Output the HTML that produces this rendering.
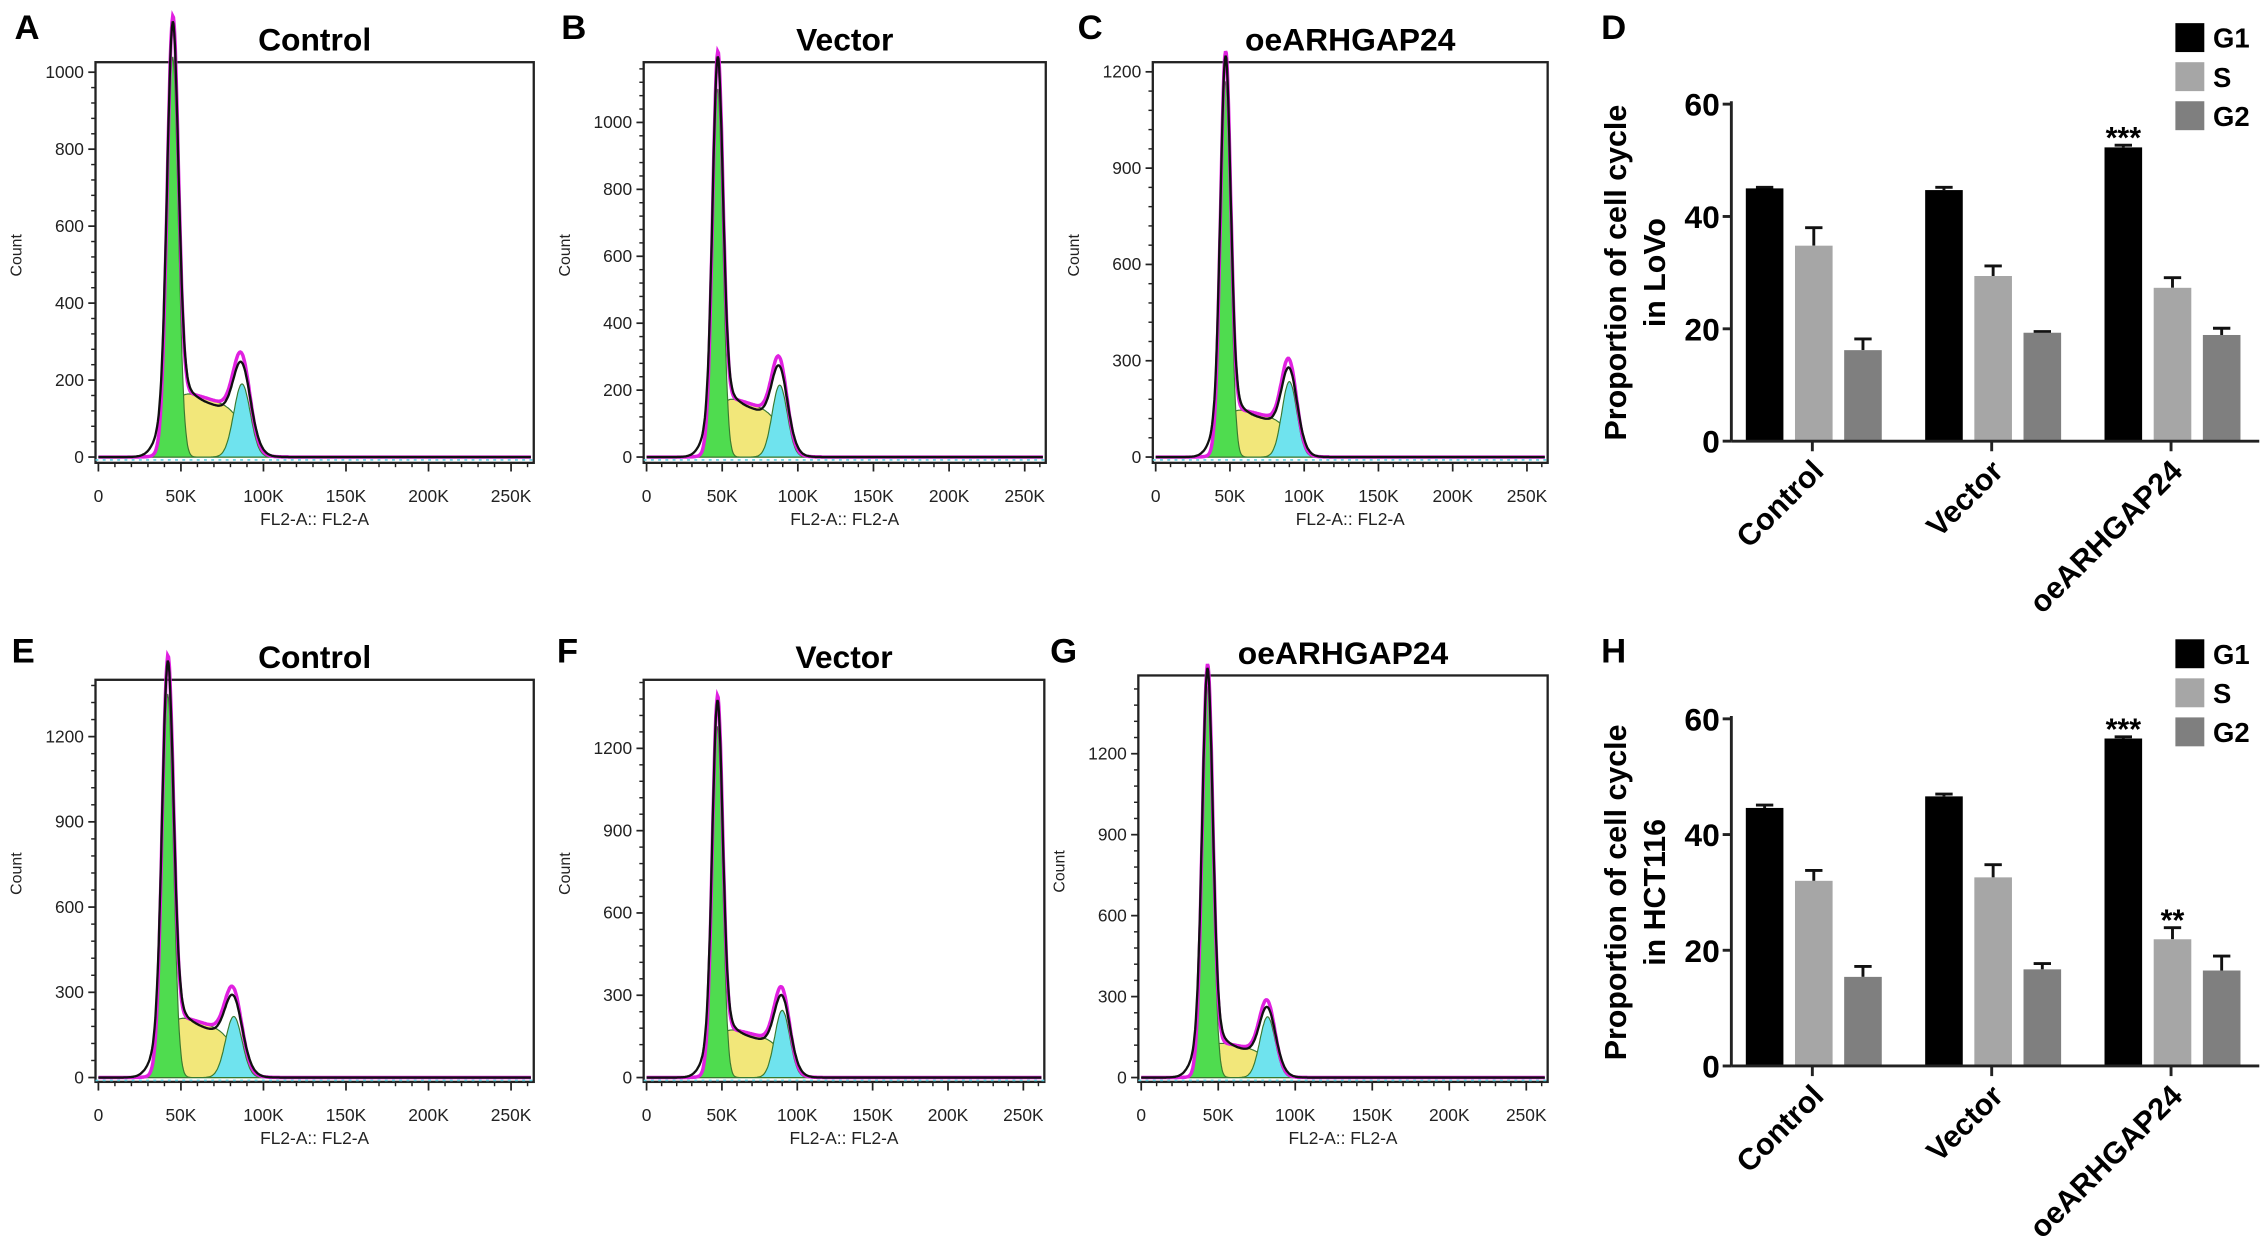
<!DOCTYPE html>
<html><head><meta charset="utf-8"><style>
html,body{margin:0;padding:0;background:#fff;}
svg{display:block;font-family:"Liberation Sans",Arial,sans-serif;}
</style></head><body>
<svg id="fig" width="2268" height="1254" viewBox="0 0 1568 867" xmlns="http://www.w3.org/2000/svg"></svg>
<script>
// ---- Flow cytometry histogram data (peak parameters) ----
const histPanels = ["A","B","C","E","F","G"];
const histTitles = ["Control","Vector","oeARHGAP24","Control","Vector","oeARHGAP24"];
const histG1Height = [1040, 1100, 1170, 1350, 1280, 1450];
const histG1Pos = [45, 47, 47, 42, 47, 43];
const histSLevel = [180, 190, 160, 230, 190, 140];
const histG2Height = [190, 215, 235, 215, 245, 225];
const histG2Pos = [87, 88, 90, 82, 90, 82];
const histYTickStep = [200, 200, 300, 300, 300, 300];
const histYTickMax = [1000, 1000, 1200, 1200, 1200, 1200];
const xTickValues = [0, 50, 100, 150, 200, 250];
const xTickLabels = ["0","50K","100K","150K","200K","250K"];

// ---- Bar chart data ----
const barCategories = ["Control","Vector","oeARHGAP24"];
const barSeries = ["G1","S","G2"];
const lovoG1 = [45.0, 44.7, 52.3];
const lovoS = [34.8, 29.4, 27.3];
const lovoG2 = [16.2, 19.3, 18.9];
const lovoG1Err = [0.2, 0.5, 0.4];
const lovoSErr = [3.2, 1.8, 1.8];
const lovoG2Err = [2.0, 0.2, 1.2];
const hctG1 = [44.6, 46.6, 56.6];
const hctS = [32.0, 32.6, 21.9];
const hctG2 = [15.4, 16.7, 16.5];
const hctG1Err = [0.5, 0.4, 0.3];
const hctSErr = [1.8, 2.2, 2.0];
const hctG2Err = [1.8, 1.0, 2.5];
const barYTicks = [0, 20, 40, 60];

const NS = "http://www.w3.org/2000/svg";
const svg = document.getElementById("fig");
function el(tag, attrs, parent, text){
  const e = document.createElementNS(NS, tag);
  for (const k in attrs) e.setAttribute(k, attrs[k]);
  if (text !== undefined) e.textContent = text;
  (parent || svg).appendChild(e);
  return e;
}

const histFrames = [
  {x:66,y:43,w:303,h:277,lx:10,ly:27,zero:316},
  {x:445,y:43,w:278,h:277,lx:388,ly:27,zero:316},
  {x:797,y:43,w:273,h:277,lx:745,ly:27,zero:316},
  {x:66,y:470,w:303,h:278,lx:8,ly:458,zero:745},
  {x:445,y:470,w:277,h:278,lx:385,ly:458,zero:745},
  {x:787,y:467,w:283,h:281,lx:726,ly:458,zero:745}
];
const histTopVal = [1026, 1180, 1230, 1400, 1450, 1490];

function gauss(v,c,s){return Math.exp(-0.5*((v-c)/s)*((v-c)/s));}
function sig(t){return 1/(1+Math.exp(-t));}

histPanels.forEach((p,i)=>{
  const f = histFrames[i];
  const g = el("g",{},svg);
  
  
  const xs = v => f.x + 2 + v/262*(f.w-4);
  const ys = c => f.zero - c/histTopVal[i]*(f.zero - f.y);
  const lt = el("text",{x:f.lx,y:f.ly,"font-size":24,"font-weight":"bold"},g,p);
  
  
  const tt = el("text",{x:f.x+f.w/2,y:f.y-8,"font-size":22,"font-weight":"bold","text-anchor":"middle"},g,histTitles[i]);
  
  
  const fr = el("rect",{x:f.x,y:f.y,width:f.w,height:f.h,fill:"none",stroke:"#222","stroke-width":1.6},g);
  
  
  const c1=histG1Pos[i], c2=histG2Pos[i], H1=histG1Height[i], S=histSLevel[i], H2=histG2Height[i];
  const s1=3.4, s2=5;
  const g1f=v=>H1*gauss(v,c1,s1);
  const sf=v=>S*sig((v-c1+1)/2.8)*sig((c2+2-v)/4)*(1-0.3*Math.max(0,Math.min(1,(v-c1)/(c2-c1))));
  const g2f=v=>H2*gauss(v,c2,s2);
  function area(fn,fill,name){
    let d="M"+xs(0)+","+ys(0);
    for(let v=0;v<=262;v+=0.5){d+=" L"+xs(v).toFixed(1)+","+ys(fn(v)).toFixed(1);}
    d+=" L"+xs(262)+","+ys(0)+" Z";
    const a=el("path",{d:d,fill:fill,stroke:"#3a7a30","stroke-width":0.8},g);
    
    
  }
  area(sf,"#f2e77a","s-phase-fill");
  area(g2f,"#6fe3ee","g2-phase-fill");
  area(g1f,"#4fdc4f","g1-phase-fill");
  function line(fn,stroke,w,name){
    let d="";
    for(let v=0;v<=262;v+=0.5){d+=(v===0?"M":" L")+xs(v).toFixed(1)+","+ys(fn(v)).toFixed(1);}
    const l=el("path",{d:d,fill:"none",stroke:stroke,"stroke-width":w},g);
    
    
  }
  line(v=>g1f(v)+sf(v)+g2f(v),"#e020e0",2.4,"model-fit-line");
  line(v=>0.93*g1f(v)+sf(v)*0.92+0.88*g2f(v)+0.03*H1*gauss(v,c1-6,5)+0.05*H1*gauss(v,c1,8)+0.08*H2*gauss(v,c2+7,5),"#111",1.6,"data-line");
  el("line",{x1:f.x,y1:f.zero+2,x2:f.x+f.w,y2:f.zero+2,stroke:"#5fd0e0","stroke-width":1.2,"stroke-dasharray":"2 3"},g);
  for(let t=0;t<=histYTickMax[i];t+=histYTickStep[i]){
    const y=ys(t);
    el("line",{x1:f.x-5,y1:y,x2:f.x,y2:y,stroke:"#222","stroke-width":1.2},g);
    const tl=el("text",{x:f.x-8,y:y+4,"font-size":12,"text-anchor":"end",fill:"#222"},g,String(t));
    
    
    for(let k=1;k<5;k++){const ym=ys(t+k*histYTickStep[i]/5); if(ym>f.y) el("line",{x1:f.x-3,y1:ym,x2:f.x,y2:ym,stroke:"#222","stroke-width":1},g);}
  }
  const ct=el("text",{x:0,y:0,"font-size":11,"text-anchor":"middle",transform:"translate("+(f.x-51)+","+(f.y+f.h/2-5)+") rotate(-90)",fill:"#222"},g,"Count");
  
  
  xTickValues.forEach((v,k)=>{
    const x=xs(v);
    el("line",{x1:x,y1:f.y+f.h,x2:x,y2:f.y+f.h+6,stroke:"#222","stroke-width":1.2},g);
    const xl=el("text",{x:x,y:f.y+f.h+27,"font-size":12,"text-anchor":"middle",fill:"#222"},g,xTickLabels[k]);
    
    
  });
  for(let v=10;v<262;v+=10){ if(v%50) el("line",{x1:xs(v),y1:f.y+f.h,x2:xs(v),y2:f.y+f.h+3,stroke:"#222","stroke-width":1},g);}
  const xt=el("text",{x:f.x+f.w/2,y:f.y+f.h+43,"font-size":12,"text-anchor":"middle",fill:"#222"},g,"FL2-A:: FL2-A");
  
  
});

const barColors = ["#000000","#a6a6a6","#7f7f7f"];
function barChart(cfg){
  const g=el("g",{},svg);
  
  
  const ax=1197, axEnd=1562;
  const ys=v=>cfg.zero-(v/60)*(cfg.zero-cfg.top);
  const lt=el("text",{x:1107,y:cfg.letterY,"font-size":24,"font-weight":"bold"},g,cfg.letter);
  
  
  const vals=[cfg.g1,cfg.s,cfg.g2], errs=[cfg.g1e,cfg.se,cfg.g2e];
  const centers=[1253,1377,1501];
  barCategories.forEach((c,ci)=>{
    barSeries.forEach((s,si)=>{
      const x=centers[ci]-46+si*34, w=26;
      const v=vals[si][ci], e=errs[si][ci];
      const xc=x+w/2;
      const eb=el("path",{d:"M"+xc+","+ys(v)+" V"+ys(v+e)+" M"+(xc-6)+","+ys(v+e)+" H"+(xc+6),stroke:"#111","stroke-width":2,fill:"none"},g);
      
      
      const r=el("rect",{x:x,y:ys(v),width:w,height:ys(0)-ys(v),fill:barColors[si]},g);
      
      
    });
    el("line",{x1:centers[ci],y1:cfg.zero,x2:centers[ci],y2:cfg.zero+7,stroke:"#222","stroke-width":2},g);
    const cl=el("text",{x:0,y:0,"font-size":21,"font-weight":"bold","text-anchor":"end",transform:"translate("+(centers[ci]+9)+","+(cfg.zero+22)+") rotate(-45)"},g,c);
    
    
  });
  el("line",{x1:ax,y1:cfg.top-2,x2:ax,y2:cfg.zero,stroke:"#222","stroke-width":2},g);
  el("line",{x1:ax,y1:cfg.zero,x2:axEnd,y2:cfg.zero,stroke:"#222","stroke-width":2},g);
  barYTicks.forEach(t=>{
    el("line",{x1:ax-6,y1:ys(t),x2:ax,y2:ys(t),stroke:"#222","stroke-width":2},g);
    const tl=el("text",{x:ax-8,y:ys(t)+8,"font-size":22,"font-weight":"bold","text-anchor":"end"},g,String(t));
    
    
  });
  const yt=el("text",{"font-size":21,"font-weight":"bold","text-anchor":"middle",transform:"translate(1124,"+((cfg.top+cfg.zero)/2)+") rotate(-90)"},g);
  
  
  el("tspan",{x:0,y:0},yt,"Proportion of cell cycle");
  el("tspan",{x:0,y:27},yt,cfg.line2);
  cfg.stars.forEach(st=>{
    const x=centers[st.c]-46+st.s*34+13;
    const tx=el("text",{x:x,y:ys(vals[st.s][st.c]+errs[st.s][st.c])+2,"font-size":21,"font-weight":"bold","text-anchor":"middle"},g,st.t);
    
    
  });
  barSeries.forEach((s,si)=>{
    const y=cfg.legendY+si*27;
    const lr=el("rect",{x:1504,y:y,width:20,height:20,fill:barColors[si]},g);
    
    
    const ltx=el("text",{x:1530,y:y+17,"font-size":19,"font-weight":"bold"},g,s);
    
    
  });
}
barChart({name:"bar-chart-lovo",letter:"D",letterY:27,top:72,zero:305,legendY:16,line2:"in LoVo",
  g1:lovoG1,s:lovoS,g2:lovoG2,g1e:lovoG1Err,se:lovoSErr,g2e:lovoG2Err,stars:[{c:2,s:0,t:"***"}]});
barChart({name:"bar-chart-hct116",letter:"H",letterY:458,top:497,zero:737,legendY:442,line2:"in HCT116",
  g1:hctG1,s:hctS,g2:hctG2,g1e:hctG1Err,se:hctSErr,g2e:hctG2Err,stars:[{c:2,s:0,t:"***"},{c:2,s:1,t:"**"}]});
</script>
</body></html>
